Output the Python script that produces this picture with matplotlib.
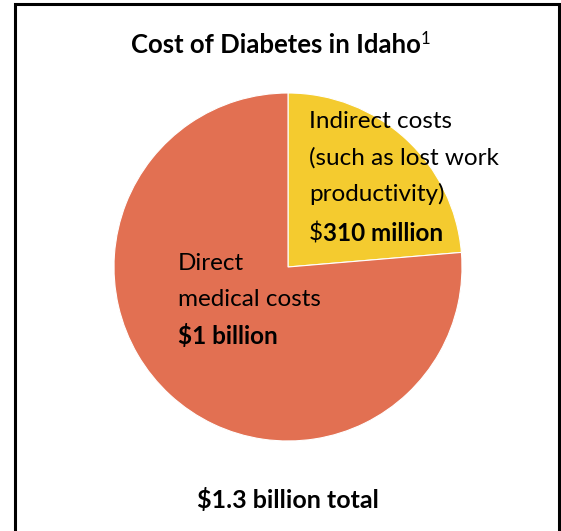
import matplotlib
matplotlib.use("Agg")
import matplotlib.pyplot as plt
from matplotlib.patches import Rectangle

# data
labels = ["Indirect costs", "Direct medical costs"]
values = [310, 1000]  # million dollars
colors = ["#F4CB2F", "#E27052"]

W, H = 561, 531
plt.rcParams['font.family'] = ['Lato', 'DejaVu Sans']

fig = plt.figure(figsize=(W / 100, H / 100), dpi=100)

# frame around the chart (bottom edge runs off the image)
fig.patches.append(Rectangle((14.5 / W, -0.1), (559 - 14.5) / W, 1.1 - 4 / H,
                             transform=fig.transFigure, fill=False,
                             edgecolor='black', linewidth=2.2))

# pie
cx, cy, r = 288, 267, 174
ax = fig.add_axes([(cx - r) / W, (H - cy - r) / H, 2 * r / W, 2 * r / H])
ax.pie(values, colors=colors, startangle=90, counterclock=False,
       wedgeprops=dict(linewidth=0.8, edgecolor='white'))
ax.set_xlim(-1, 1)
ax.set_ylim(-1, 1)
ax.set_aspect('equal')
ax.axis('off')


def px(x, y):
    return x / W, 1 - y / H


def after(t, s, size, weight='normal', dy=0):
    # place text s right after text t
    fig.canvas.draw()
    bb = t.get_window_extent()
    x0 = bb.x1 / W
    y0 = t.get_position()[1] + dy / H
    return fig.text(x0, y0, s, fontsize=size, weight=weight, va='center', ha='left')


# title
title = fig.text(*px(131, 45), "Cost of Diabetes in Idaho", fontsize=18.5,
                 weight='bold', va='center', ha='left')
after(title, "1", 12, dy=6)

# indirect label
fs = 17.5
fig.text(*px(309, 122), "Indirect costs", fontsize=fs, va='center')
fig.text(*px(309, 158), "(such as lost work", fontsize=fs, va='center')
fig.text(*px(309, 194), "productivity)", fontsize=fs, va='center')
d = fig.text(*px(309, 234), "$", fontsize=fs, va='center')
after(d, "310 million", fs, weight='bold')

# direct label
fig.text(*px(178, 263), "Direct", fontsize=fs, va='center')
fig.text(*px(178, 300), "medical costs", fontsize=fs, va='center')
fig.text(*px(178, 336), "$1 billion", fontsize=fs, weight='bold', va='center')

# total
fig.text(*px(288, 500), "$1.3 billion total", fontsize=18, weight='bold',
         va='center', ha='center')

fig.savefig("out.png", dpi=100)
